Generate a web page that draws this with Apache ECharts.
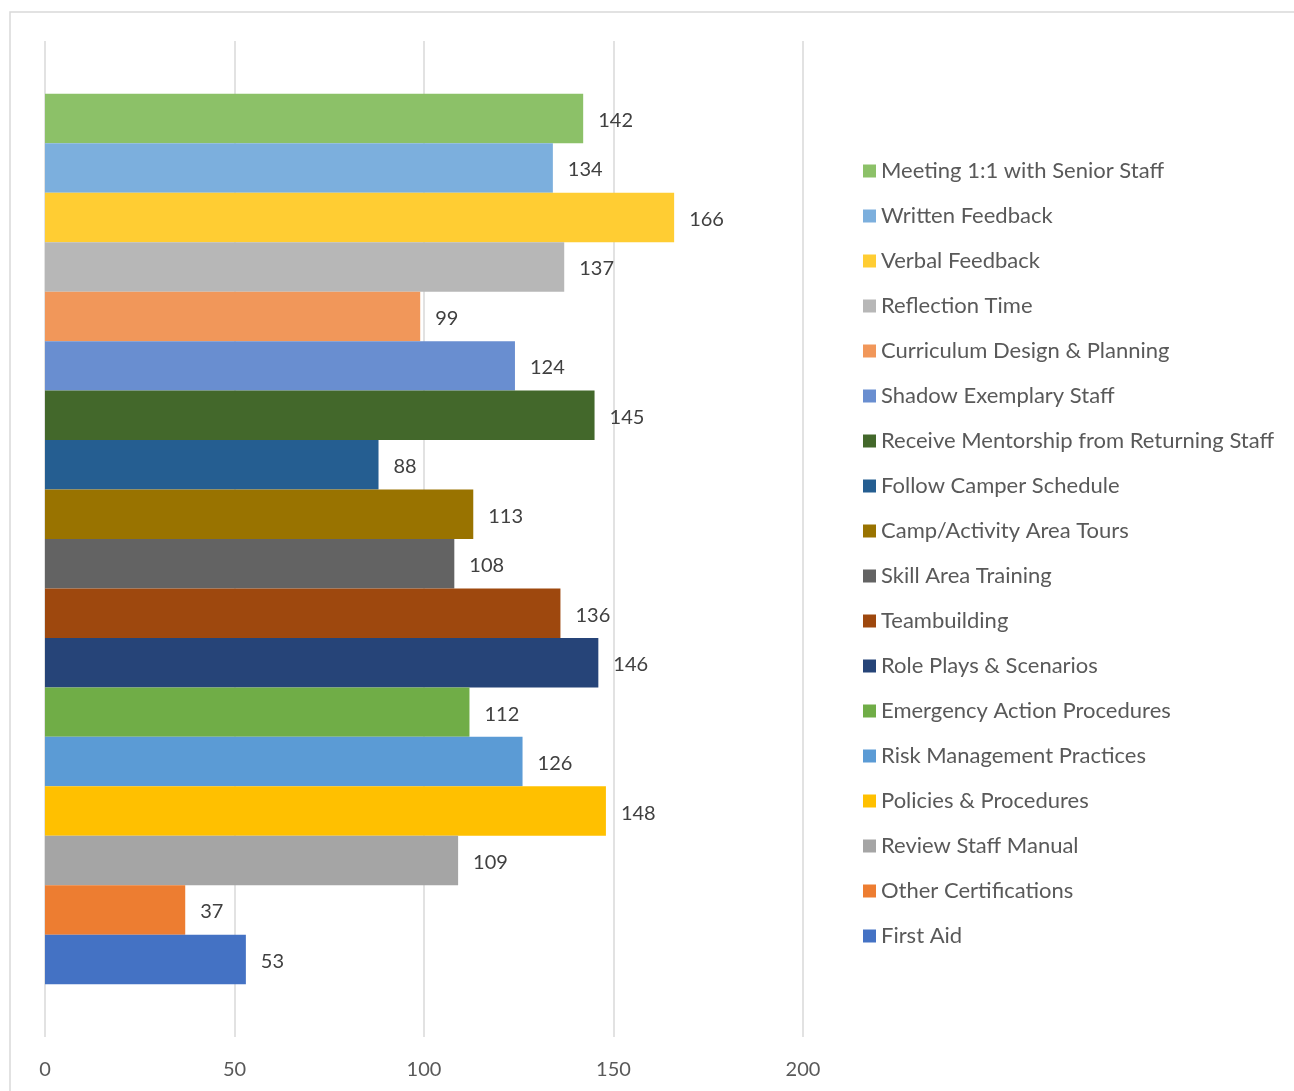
<!DOCTYPE html>
<html>
<head>
<meta charset="utf-8">
<script src="https://cdn.jsdelivr.net/npm/echarts@6/dist/echarts.min.js"></script>
<style>
html,body{margin:0;padding:0;background:#fff;}
#chart{width:1294px;height:1091px;}
</style>
</head>
<body>
<div id="chart"></div>
<script>
// Series listed top-to-bottom as drawn
const seriesNames = [
  "Meeting 1:1 with Senior Staff",
  "Written Feedback",
  "Verbal Feedback",
  "Reflection Time",
  "Curriculum Design & Planning",
  "Shadow Exemplary Staff",
  "Receive Mentorship from Returning Staff",
  "Follow Camper Schedule",
  "Camp/Activity Area Tours",
  "Skill Area Training",
  "Teambuilding",
  "Role Plays & Scenarios",
  "Emergency Action Procedures",
  "Risk Management Practices",
  "Policies & Procedures",
  "Review Staff Manual",
  "Other Certifications",
  "First Aid"
];
const seriesValues = [142, 134, 166, 137, 99, 124, 145, 88, 113, 108, 136, 146, 112, 126, 148, 109, 37, 53];
const seriesColors = [
  "#8CC168", "#7CAFDD", "#FFCD33", "#B7B7B7", "#F1975A", "#698ED0",
  "#43682B", "#255E91", "#997300", "#636363", "#9E480E", "#264478",
  "#70AD47", "#5B9BD5", "#FFC000", "#A5A5A5", "#ED7D31", "#4472C4"
];
const categories = [""];
const axisTicks = [0, 50, 100, 150, 200];

const FONT = "Lato";
const chart = echarts.init(document.getElementById('chart'), null, {renderer: 'canvas'});

const series = seriesNames.map((name, i) => ({
  name: name,
  type: 'bar',
  data: [seriesValues[i]],
  barGap: '0%',
  barCategoryGap: '10.6%',
  itemStyle: {color: seriesColors[i]},
  label: {
    show: true,
    position: 'right',
    distance: 15,
    offset: [0, 2],
    color: '#404040',
    fontFamily: FONT,
    fontSize: 20
  },
  emphasis: {disabled: true}
}));

chart.setOption({
  animation: false,
  backgroundColor: '#ffffff',
  graphic: [{
    type: 'rect',
    shape: {x: 10, y: 12, width: 1400, height: 1200},
    style: {fill: 'none', stroke: '#D9D9D9', lineWidth: 1.5},
    silent: true,
    z: -10
  }],
  grid: {left: 45, right: 491, top: 41, bottom: 54, containLabel: false},
  legend: {
    orient: 'vertical',
    left: 858,
    top: 155,
    itemWidth: 13,
    itemHeight: 13,
    itemGap: 23,
    icon: 'rect',
    data: seriesNames,
    textStyle: {color: '#595959', fontFamily: FONT, fontSize: 22, padding: [0, 0, 0, 0]}
  },
  xAxis: {
    type: 'value',
    min: axisTicks[0],
    max: axisTicks[axisTicks.length - 1],
    interval: axisTicks[1] - axisTicks[0],
    axisLine: {show: false},
    axisTick: {show: false},
    axisLabel: {color: '#595959', fontFamily: FONT, fontSize: 20, margin: 23},
    splitLine: {show: true, lineStyle: {color: '#D9D9D9', width: 1.5}}
  },
  yAxis: {
    type: 'category',
    data: categories,
    axisLine: {show: false},
    axisTick: {show: false},
    axisLabel: {show: false}
  },
  series: series
});
</script>
</body>
</html>
